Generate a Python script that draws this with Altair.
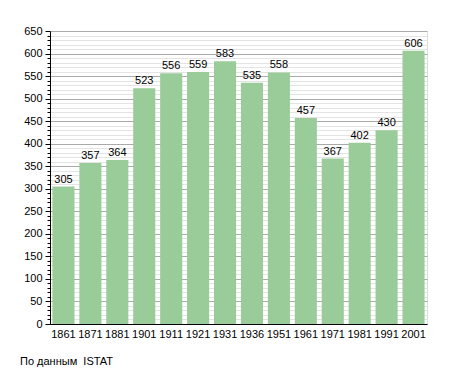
import altair as alt
import pandas as pd

years = ["1861", "1871", "1881", "1901", "1911", "1921", "1931", "1936", "1951", "1961", "1971", "1981", "1991", "2001"]
population = [305, 357, 364, 523, 556, 559, 583, 535, 558, 457, 367, 402, 430, 606]
y_ticks = list(range(0, 651, 10))
source_note = ["По данным\u00a0 ISTAT"]

df = pd.DataFrame({"year": years, "pop": population})
FONT = "Liberation Sans"

x = alt.X("year:N", sort=None, title=None,
          scale=alt.Scale(paddingInner=0.18, paddingOuter=0.09),
          axis=alt.Axis(labelAngle=0, labelFont=FONT, labelFontSize=11, labelColor="black",
                        domainColor="black", ticks=False, labelPadding=4))
y = alt.Y("pop:Q", title=None,
          scale=alt.Scale(domain=[0, 650], nice=False),
          axis=alt.Axis(values=y_ticks, labelExpr="datum.value % 50 === 0 ? datum.label : ''",
                        labelFont=FONT, labelFontSize=11, labelColor="black",
                        domainColor="black", tickColor="black",
                        tickSize=alt.condition("datum.value % 50 === 0", alt.value(5), alt.value(3)),
                        grid=True,
                        gridColor=alt.condition("datum.value % 50 === 0", alt.value("#aaaaaa"), alt.value("#e4e4e4")),
                        labelPadding=3))

base = alt.Chart(df).encode(x=x, y=y)
bars = base.mark_bar(color="#99cc99")
labels = base.mark_text(dy=-7, font=FONT, fontSize=11, color="black").encode(text="pop:Q")
note = alt.Chart(pd.DataFrame({"t": source_note})).mark_text(
    align="left", baseline="middle", font=FONT, fontSize=11, color="black").encode(
    x=alt.value(-30), y=alt.value(331), text="t:N")

chart = alt.layer(bars, labels, note).properties(
    width=377, height=293,
    autosize=alt.AutoSizeParams(type="none"),
    padding={"left": 42, "top": 23, "right": 20, "bottom": 45},
).configure_view(stroke=None).configure(background="white")

chart.save("out.html", embed_options={"renderer": "svg", "actions": False})
